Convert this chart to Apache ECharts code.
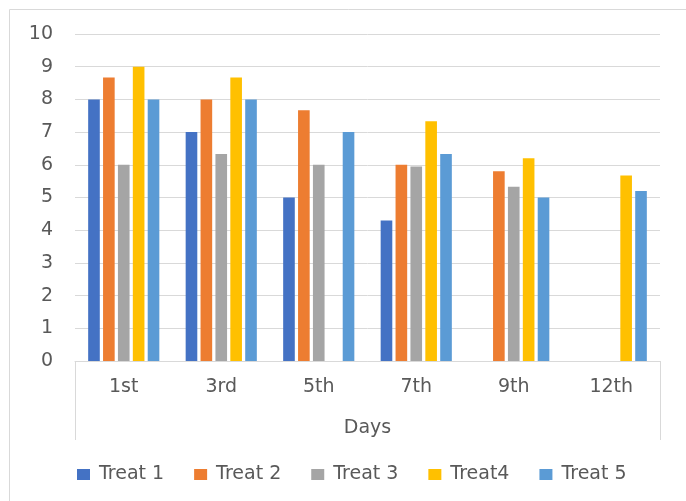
<!DOCTYPE html>
<html>
<head>
<meta charset="utf-8">
<script src="https://cdn.jsdelivr.net/npm/echarts@6/dist/echarts.min.js"></script>
<style>
  html, body { margin: 0; padding: 0; background: #fff; }
  #chart { width: 686px; height: 501px; }
</style>
</head>
<body>
<div id="chart"></div>
<script>
// Days of observation
const days = ['1st', '3rd', '5th', '7th', '9th', '12th'];

// Scores per treatment (null = no reading that day)
const treat1 = [8, 7, 5, 4.3, null, null];
const treat2 = [8.67, 8, 7.67, 6, 5.8, null];
const treat3 = [6, 6.33, 6, 5.95, 5.33, null];
const treat4 = [9, 8.67, null, 7.33, 6.2, 5.67];
const treat5 = [8, 8, 7, 6.33, 5, 5.2];

const seriesNames = ['Treat 1', 'Treat 2', 'Treat 3', 'Treat4', 'Treat 5'];
const seriesData = [treat1, treat2, treat3, treat4, treat5];
const colors = ['#4472C4', '#ED7D31', '#A5A5A5', '#FFC000', '#5B9BD5'];

const font = '"DejaVu Sans", sans-serif';
const fontSize = 19;
const textColor = '#595959';
const lineColor = '#D9D9D9';

const chart = echarts.init(document.getElementById('chart'));
chart.setOption({
  animation: false,
  color: colors,
  textStyle: { fontFamily: font },
  graphic: [{
    type: 'rect',
    shape: { x: 9.5, y: 9.5, width: 700, height: 520 },
    style: { fill: 'none', stroke: lineColor, lineWidth: 1 },
    silent: true
  }],
  grid: { left: 75, right: 26, top: 34, bottom: 140 },
  legend: {
    top: 460,
    left: 72,
    padding: 5,
    icon: 'rect',
    itemWidth: 13,
    itemHeight: 11,
    itemGap: 30,
    textStyle: { fontSize: fontSize, color: textColor, fontFamily: font, padding: [0, 0, 0, 4] },
    data: seriesNames
  },
  xAxis: [{
    type: 'category',
    data: days,
    axisLine: { lineStyle: { color: lineColor } },
    axisTick: { show: false },
    axisLabel: { fontSize: fontSize, color: textColor, margin: 17, fontFamily: font }
  }, {
    type: 'category',
    data: ['Days'],
    position: 'bottom',
    offset: 79,
    axisLine: { show: false },
    axisTick: { show: true, inside: true, length: 79, alignWithLabel: false, lineStyle: { color: lineColor } },
    axisLabel: { inside: true, fontSize: fontSize, color: textColor, margin: 2, fontFamily: font, verticalAlign: 'bottom' },
    splitLine: { show: false }
  }],
  yAxis: {
    type: 'value',
    min: 0,
    max: 10,
    interval: 1,
    axisLine: { show: false },
    axisTick: { show: false },
    axisLabel: { fontSize: fontSize, color: textColor, margin: 22, fontFamily: font },
    splitLine: { lineStyle: { color: lineColor } }
  },
  series: seriesData.map((d, i) => ({
    name: seriesNames[i],
    type: 'bar',
    xAxisIndex: 0,
    data: d,
    barGap: '28%',
    barCategoryGap: '27%',
    itemStyle: { color: colors[i] }
  }))
});
</script>
</body>
</html>
